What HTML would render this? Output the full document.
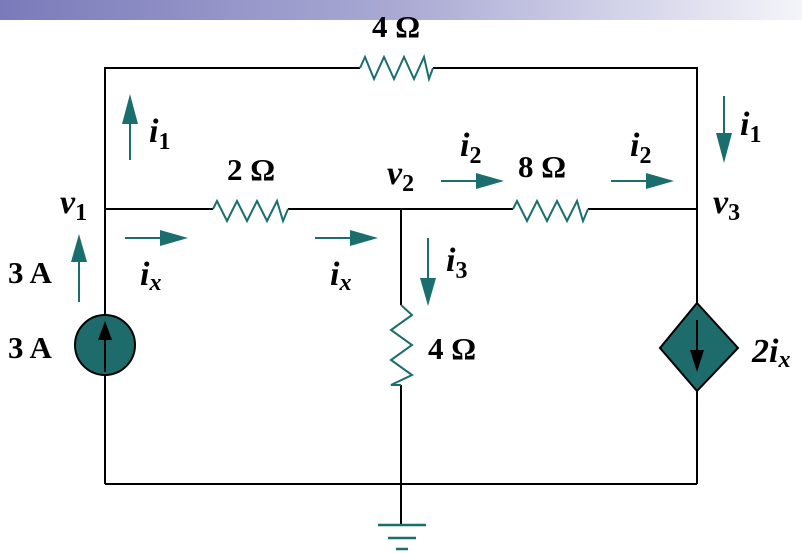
<!DOCTYPE html>
<html><head><style>
html,body{margin:0;padding:0;background:#fff;}
svg{display:block;}
text{font-family:"Liberation Serif",serif;font-weight:bold;fill:#000;}
</style></head><body>
<svg width="802" height="553" viewBox="0 0 802 553" xmlns="http://www.w3.org/2000/svg">
<defs>
<linearGradient id="g" x1="0" x2="1" y1="0" y2="0">
<stop offset="0" stop-color="#7a7aba"/><stop offset="0.5" stop-color="#aaaad4"/><stop offset="1" stop-color="#f4f4fa"/>
</linearGradient>
</defs>
<rect x="0" y="0" width="802" height="20" fill="url(#g)"/>
<g stroke="#000" stroke-width="2" fill="none">
<polyline points="360,68 105,68 105,315"/>
<line x1="105" y1="375" x2="105" y2="484"/>
<polyline points="433,68 697,68 697,306"/>
<line x1="697" y1="390" x2="697" y2="484"/>
<line x1="105" y1="484" x2="697" y2="484"/>
<line x1="105" y1="209" x2="213" y2="209"/>
<line x1="288" y1="209" x2="513" y2="209"/>
<line x1="588" y1="209" x2="697" y2="209"/>
<line x1="401" y1="209" x2="401" y2="305"/>
<line x1="401" y1="385" x2="401" y2="525"/>
</g>
<g stroke="#1a6e6e" stroke-width="2" fill="none">
<polyline points="360,68 365,57 374,79 384,57 394,79 404,57 414,79 424,57 429,79 433,68"/>
<polyline points="213,209 217,201 227,221 237,201 247,221 257,201 267,221 277,201 283,221 288,209"/>
<polyline points="513,209 517,201 527,221 537,201 547,221 557,201 567,221 577,201 583,221 588,209"/>
<polyline points="401,305 412,315 391,330 412,345 391,360 412,375 391,385 401,385"/>
<line x1="378" y1="525" x2="426" y2="525" stroke-width="2.5"/>
<line x1="388" y1="538" x2="416" y2="538" stroke-width="2.5"/>
<line x1="396" y1="549" x2="408" y2="549" stroke-width="2.5"/>
<line x1="130" y1="160" x2="130" y2="120"/>
<line x1="724" y1="96" x2="724" y2="140"/>
<line x1="125" y1="238" x2="165" y2="238"/>
<line x1="315" y1="238" x2="355" y2="238"/>
<line x1="441" y1="181" x2="481" y2="181"/>
<line x1="611" y1="181" x2="651" y2="181"/>
<line x1="428" y1="238" x2="428" y2="282"/>
<line x1="79" y1="302" x2="79" y2="256"/>
</g>
<g fill="#1a6e6e">
<polygon points="122,124 138,124 130,94"/>
<polygon points="716,133 732,133 724,163"/>
<polygon points="160,230 160,246 188,238"/>
<polygon points="350,230 350,246 378,238"/>
<polygon points="476,173 476,189 504,181"/>
<polygon points="646,173 646,189 674,181"/>
<polygon points="420,278 436,278 428,306"/>
<polygon points="71,262 87,262 79,234"/>
</g>
<circle cx="105" cy="345" r="30" fill="#1e6b6b" stroke="#000" stroke-width="2"/>
<line x1="105" y1="372" x2="105" y2="335" stroke="#000" stroke-width="2"/>
<polygon points="98,340 112,340 105,321" fill="#000"/>
<polygon points="697,303 738,348 697,391 660,348" fill="#1e6b6b" stroke="#000" stroke-width="2"/>
<line x1="697" y1="320" x2="697" y2="355" stroke="#000" stroke-width="2"/>
<polygon points="690,350 704,350 697,372" fill="#000"/>
<g font-size="31">
<text x="372" y="37">4 Ω</text>
<text x="227" y="180">2 Ω</text>
<text x="518" y="177">8 Ω</text>
<text x="428" y="359">4 Ω</text>
<text x="8" y="283">3 A</text>
<text x="8" y="358">3 A</text>
</g>
<g font-size="34" font-style="italic">
<text x="149" y="142">i<tspan font-size="24" dy="7" font-style="normal">1</tspan></text>
<text x="740" y="135">i<tspan font-size="24" dy="7" font-style="normal">1</tspan></text>
<text x="460" y="156">i<tspan font-size="24" dy="7" font-style="normal">2</tspan></text>
<text x="630" y="156">i<tspan font-size="24" dy="7" font-style="normal">2</tspan></text>
<text x="446" y="271">i<tspan font-size="24" dy="7" font-style="normal">3</tspan></text>
<text x="140" y="285">i<tspan font-size="24" dy="5">x</tspan></text>
<text x="330" y="285">i<tspan font-size="24" dy="5">x</tspan></text>
<text x="752" y="362">2i<tspan font-size="24" dy="5">x</tspan></text>
<text x="60" y="213">v<tspan font-size="24" dy="7" font-style="normal">1</tspan></text>
<text x="387" y="184">v<tspan font-size="24" dy="7" font-style="normal">2</tspan></text>
<text x="713" y="213">v<tspan font-size="24" dy="7" font-style="normal">3</tspan></text>
</g>
</svg>
</body></html>
